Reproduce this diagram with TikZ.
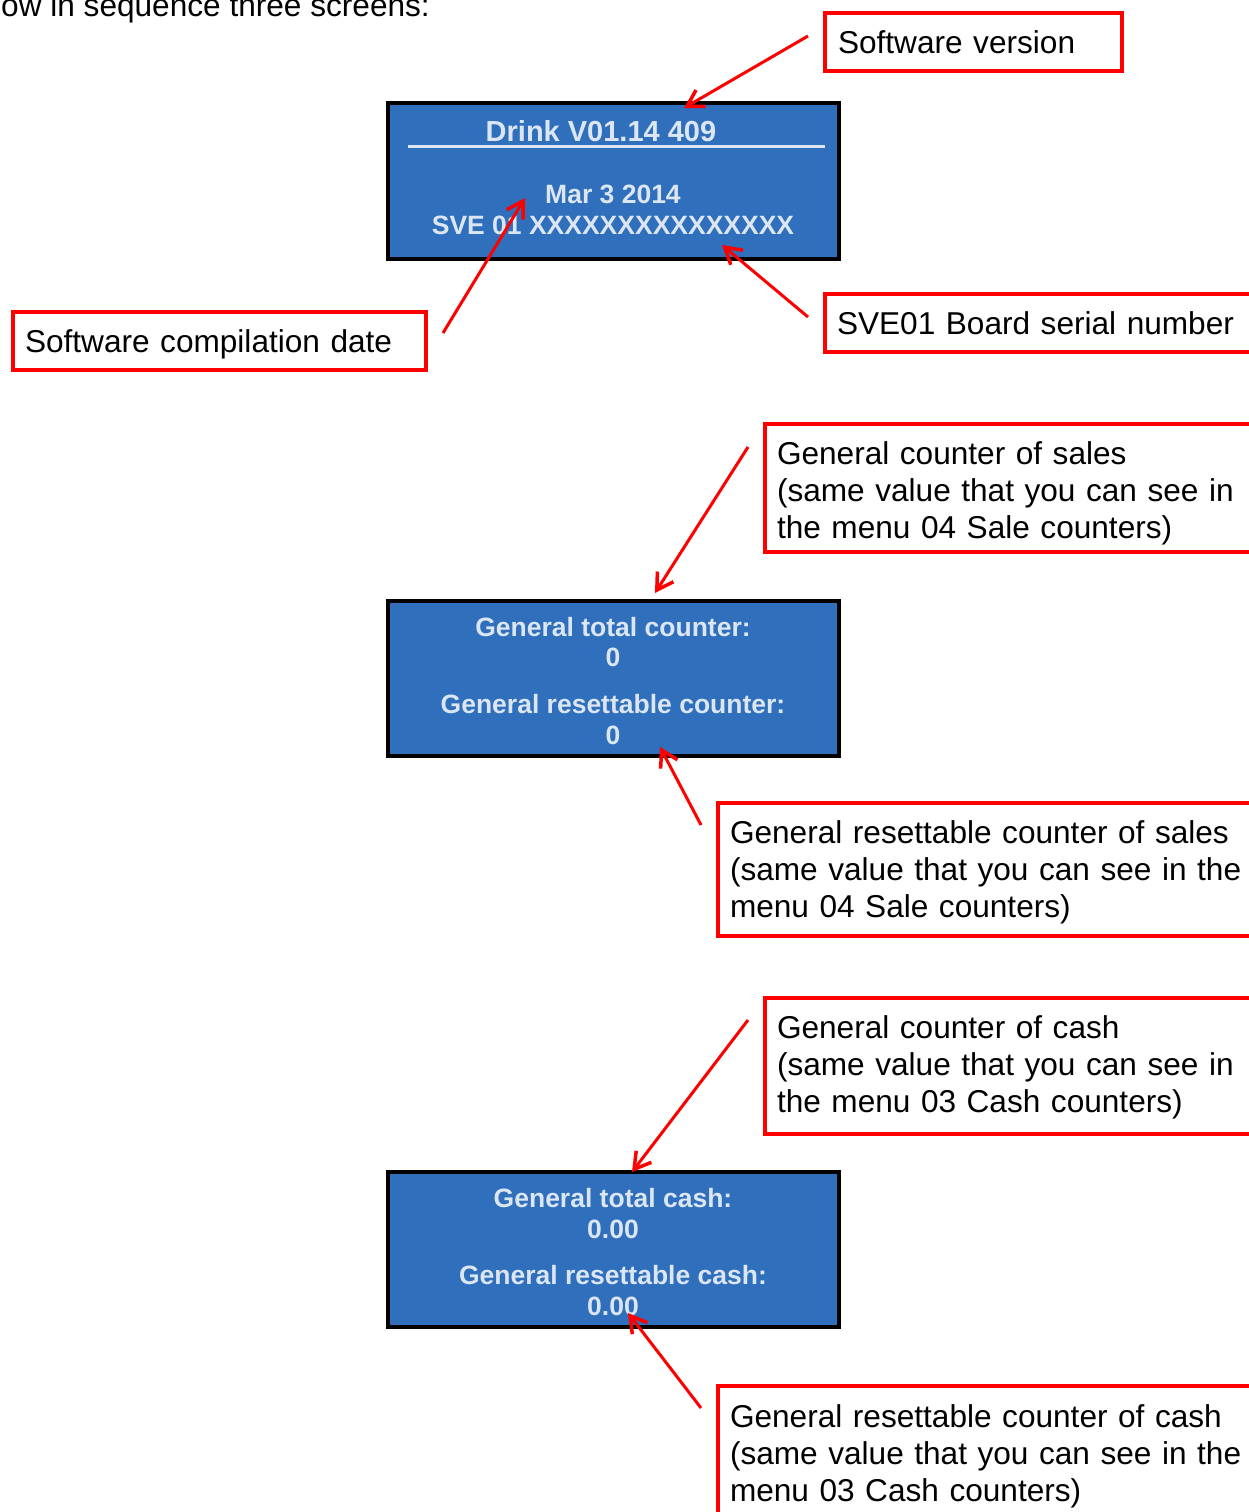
\documentclass[tikz,border=0pt]{standalone}
\usepackage{fontspec}
\setmainfont{Liberation Sans}
\usetikzlibrary{arrows.meta}
\definecolor{scrblue}{RGB}{47,111,188}
\definecolor{scrtext}{RGB}{220,230,242}
\begin{document}
\begin{tikzpicture}[x=1pt,y=-1pt,
  redbox/.style={draw=red, line width=3.5pt, anchor=north west, outer sep=0pt, inner xsep=12pt, inner ysep=0pt,
    align=left, font=\fontsize{31.6}{37}\selectfont, text=black},
  oneline/.style={text height=22.6pt, text depth=0pt},
  screen/.style={draw=black, line width=4.5pt, fill=scrblue, anchor=north west, outer sep=0pt,
    minimum width=451pt, inner sep=0pt},
  scrtxt/.style={text=scrtext, font=\bfseries\fontsize{26.5}{30}\selectfont, inner sep=0pt},
  callout/.style={draw=red, line width=3pt, -{Straight Barb[length=16pt,width=19pt,line width=3.5pt]}}
]
\useasboundingbox (0,0) rectangle (1249,1512);
\clip (0,0) rectangle (1249,1512);

% heading text
\node[anchor=base west, inner sep=0pt, font=\fontsize{31.6}{37}\selectfont] (head) at (1,17) {ow in sequence three screens:};

% screens
\node[screen, minimum height=156pt] (scr1) at (388,103) {};
\node[screen, minimum height=155pt] (scr2) at (388,601) {};
\node[screen, minimum height=155pt] (scr3) at (388,1172) {};

% screen 1 texts
\node[scrtxt, font=\bfseries\fontsize{29}{32}\selectfont] (s1a) at (601,131) {Drink V01.14 409};
\draw[scrtext, line width=3pt] (408,146) coordinate (ulA) -- (825,146) coordinate (ulB);
\node[scrtxt] (s1b) at (613,194) {Mar 3 2014};
\node[scrtxt] (s1c) at (613,225) {SVE 01 XXXXXXXXXXXXXXX};

% screen 2 texts
\node[scrtxt] (s2a) at (613,627) {General total counter:};
\node[scrtxt] (s2b) at (613,657) {0};
\node[scrtxt] (s2c) at (613,704) {General resettable counter:};
\node[scrtxt] (s2d) at (613,735) {0};

% screen 3 texts
\node[scrtxt] (s3a) at (613,1198) {General total cash:};
\node[scrtxt] (s3b) at (613,1229) {0.00};
\node[scrtxt] (s3c) at (613,1275) {General resettable cash:};
\node[scrtxt] (s3d) at (613,1306) {0.00};

% red callout boxes
\node[redbox, oneline, minimum width=297pt, minimum height=58pt, text width=271pt] (sv) at (825,13) {Software version};
\node[redbox, oneline, minimum width=413pt, minimum height=58pt, text width=389pt] (scd) at (13,312) {Software compilation date};
\node[redbox, oneline, minimum width=440pt, minimum height=58pt, text width=416pt] (sbn) at (825,294) {SVE01 Board serial number};
\node[redbox, text height=0pt, text depth=47.4pt, minimum width=500pt, minimum height=128pt, text width=476pt] (gcs) at (765,424)
  {General counter of sales\\(same value that you can see in\\the menu 04 Sale counters)};
\node[redbox, text height=0pt, text depth=52.4pt, minimum width=547pt, minimum height=133pt, text width=523pt] (grcs) at (718,803)
  {General resettable counter of sales\\(same value that you can see in the\\menu 04 Sale counters)};
\node[redbox, text height=0pt, text depth=55.4pt, minimum width=500pt, minimum height=136pt, text width=476pt] (gcc) at (765,998)
  {General counter of cash\\(same value that you can see in\\the menu 03 Cash counters)};
\node[redbox, text height=0pt, text depth=49.4pt, minimum width=547pt, minimum height=132pt, text width=523pt] (grcc) at (718,1386)
  {General resettable counter of cash\\(same value that you can see in the\\menu 03 Cash counters)};

% arrow end points
\coordinate (a1s) at (808,36);   \coordinate (a1e) at (684,108);
\coordinate (a2s) at (443,333);  \coordinate (a2e) at (525,198);
\coordinate (a3s) at (808,317);  \coordinate (a3e) at (722,245);
\coordinate (a4s) at (748,447);  \coordinate (a4e) at (655,593);
\coordinate (a5s) at (701,825);  \coordinate (a5e) at (660,747);
\coordinate (a6s) at (748,1020); \coordinate (a6e) at (632,1172);
\coordinate (a7s) at (701,1408); \coordinate (a7e) at (628,1313);

\draw[callout] (a1s) -- (a1e);
\draw[callout] (a2s) -- (a2e);
\draw[callout] (a3s) -- (a3e);
\draw[callout] (a4s) -- (a4e);
\draw[callout] (a5s) -- (a5e);
\draw[callout] (a6s) -- (a6e);
\draw[callout] (a7s) -- (a7e);
\end{tikzpicture}
\end{document}
